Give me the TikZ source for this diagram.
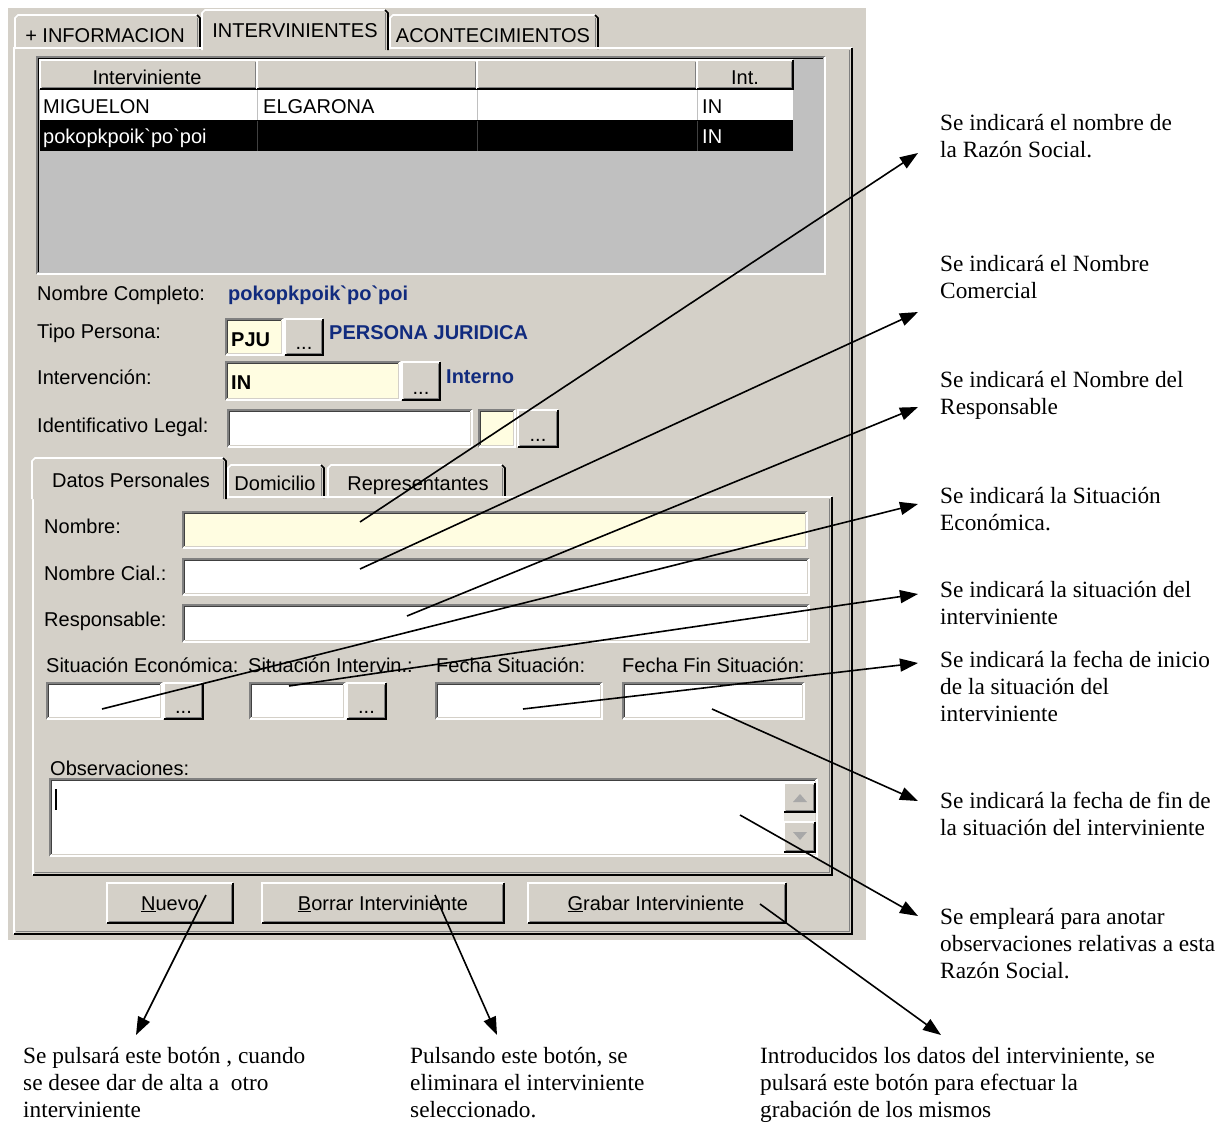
\documentclass[tikz,border=0pt]{standalone}
\usepackage{fontspec}
\setmainfont{Liberation Serif}
\newfontfamily\uifont{Liberation Sans}
\usetikzlibrary{arrows.meta}

\definecolor{winbg}{HTML}{D4D0C8}
\definecolor{listgray}{HTML}{C0C0C0}
\definecolor{edgegray}{HTML}{808080}
\definecolor{darkedge}{HTML}{404040}
\definecolor{fieldyellow}{HTML}{FFFDE1}
\definecolor{labelblue}{HTML}{112B7E}
\definecolor{trackgray}{HTML}{E6E4DE}
\definecolor{arrowgray}{HTML}{A8A8A8}

\tikzset{
  bevelline/.style={line width=1.6pt},
  ui/.style={font=\uifont\fontsize{20}{24}\selectfont, inner sep=0pt, anchor=base west},
  uib/.style={ui, font=\uifont\bfseries\fontsize{20}{24}\selectfont},
  uiblue/.style={uib, text=labelblue},
  uic/.style={ui, anchor=base},
  dots/.style={ui, anchor=base},
  note/.style={font=\fontsize{23.3}{27}\selectfont, align=left, anchor=north west,
    inner sep=0pt, execute at begin node={\rule{0pt}{19pt}}},
  callout/.style={line width=1.6pt, -{Triangle[length=18pt,width=13pt]}},
}

% sunken edit field: x1 y1 x2 y2 fill
\newcommand{\sunkenfield}[5]{%
  \fill[#5] (#1,#2) rectangle (#3,#4);
  \draw[bevelline, edgegray] (#1,#4) -- (#1,#2) -- (#3,#2);
  \draw[bevelline, white] (#1,#4) -- (#3,#4) -- (#3,#2);
  \draw[bevelline, darkedge] ({#1+1.6},{#4-1.6}) -- ({#1+1.6},{#2+1.6}) -- ({#3-1.6},{#2+1.6});
  \draw[bevelline, winbg] ({#1+1.6},{#4-1.6}) -- ({#3-1.6},{#4-1.6}) -- ({#3-1.6},{#2+1.6});
}
% raised button face: x1 y1 x2 y2
\newcommand{\raisedface}[4]{%
  \fill[winbg] (#1,#2) rectangle (#3,#4);
  \draw[bevelline, white] (#1,#4) -- (#1,#2) -- (#3,#2);
  \draw[bevelline, black] (#1,#4) -- (#3,#4) -- (#3,#2);
  \draw[bevelline, edgegray] ({#1+1.6},{#4-1.6}) -- ({#3-1.6},{#4-1.6}) -- ({#3-1.6},{#2+1.6});
}
% browse button with three dots: name x1 y1 x2 y2
\newcommand{\browsebutton}[5]{%
  \raisedface{#2}{#3}{#4}{#5}
  \node[dots] (#1) at ({(#2+#4)/2},{#5-6}) {...};
}
% tab header: x1 y1 x2 y2
\newcommand{\tabface}[4]{%
  \fill[winbg] (#1,#4) -- (#1,{#2+3}) -- ({#1+3},#2) -- ({#3-3},#2) -- (#3,{#2+3}) -- (#3,#4) -- cycle;
  \draw[bevelline, white] (#1,#4) -- (#1,{#2+3}) -- ({#1+3},#2) -- ({#3-3},#2);
  \draw[bevelline, black] ({#3-3},#2) -- (#3,{#2+3}) -- (#3,#4);
  \draw[bevelline, edgegray] ({#3-2.5},{#2+3}) -- ({#3-2.5},#4);
}

\begin{document}
\begin{tikzpicture}[x=1pt, y=-1pt]
\useasboundingbox (0,0) rectangle (1221,1127);
\fill[white] (0,0) rectangle (1221,1127);

% ---------- window ----------
\fill[winbg] (8,8) rectangle (866,940);

% outer tabs
\tabface{15}{15}{200}{49}
\tabface{390}{15}{598}{49}
\draw[bevelline, white] (14,934) -- (14,48) -- (852,48);
\draw[bevelline, black] (852,48) -- (852,934) -- (14,934);
\draw[bevelline, edgegray] (849.5,50) -- (849.5,931.5) -- (16,931.5);
\tabface{202}{10}{388}{50}
\node[uic] (tabInfo) at (105,42) {+ INFORMACION};
\node[uic] (tabInterv) at (295,37) {INTERVINIENTES};
\node[uic] (tabAcont) at (493,42) {ACONTECIMIENTOS};

% ---------- list of participants ----------
\fill[listgray] (37,57) rectangle (825,274);
\draw[bevelline, edgegray] (37,274) -- (37,57) -- (825,57);
\draw[bevelline, white] (37,274) -- (825,274) -- (825,57);
\draw[bevelline, black] (38.6,272.4) -- (38.6,58.6) -- (823.4,58.6);
\raisedface{40}{60}{257}{89}
\raisedface{257}{60}{477}{89}
\raisedface{477}{60}{697}{89}
\raisedface{697}{60}{793}{89}
\fill[white] (40,90) rectangle (793,120);
\fill[black] (40,120) rectangle (793,151);
\foreach \cx in {257,477,697} {
  \draw[line width=1pt, listgray] (\cx,90) -- (\cx,120);
  \draw[line width=1pt, darkedge] (\cx,121) -- (\cx,151);
}
\node[uic] (hdInterv) at (147,84) {Interviniente};
\node[uic] (hdInt) at (745,84) {Int.};
\node[ui] (r1c1) at (43,113) {MIGUELON};
\node[ui] (r1c2) at (263,113) {ELGARONA};
\node[ui] (r1c4) at (702,113) {IN};
\node[ui, text=white] (r2c1) at (43,143) {pokopkpoik\textasciigrave po\textasciigrave poi};
\node[ui, text=white] (r2c4) at (702,143) {IN};

% ---------- header fields ----------
\node[ui] (lblCompleto) at (37,300) {Nombre Completo:};
\node[uiblue] (valCompleto) at (228,300) {pokopkpoik\textasciigrave po\textasciigrave poi};

\node[ui] (lblTipo) at (37,338) {Tipo Persona:};
\sunkenfield{226}{319}{283}{355}{fieldyellow}
\node[uib] (valPJU) at (231,346) {PJU};
\browsebutton{btnTipo}{285}{319}{323}{355}
\node[uiblue] (valPersona) at (329,339) {PERSONA JURIDICA};

\node[ui] (lblInterv) at (37,384) {Intervención:};
\sunkenfield{226}{362}{400}{400}{fieldyellow}
\node[uib] (valIN) at (231,389) {IN};
\browsebutton{btnInterv}{402}{362}{440}{400}
\node[uiblue] (valInterno) at (446,383) {Interno};

\node[ui] (lblIdent) at (37,432) {Identificativo Legal:};
\sunkenfield{228}{410}{472}{447}{white}
\sunkenfield{479}{410}{515}{447}{fieldyellow}
\browsebutton{btnIdent}{518}{410}{558}{447}

% ---------- inner tabs ----------
\tabface{228}{465}{324}{498}
\tabface{328}{465}{505}{498}
\draw[bevelline, white] (33,875) -- (33,497) -- (832,497);
\draw[bevelline, black] (832,497) -- (832,875) -- (33,875);
\draw[bevelline, edgegray] (829.5,499) -- (829.5,872.5) -- (35,872.5);
\tabface{32}{458}{226}{499}
\node[uic] (tabDatos) at (131,487) {Datos Personales};
\node[uic] (tabDomicilio) at (275,490) {Domicilio};
\node[uic] (tabRepres) at (418,490) {Representantes};

% ---------- personal data ----------
\node[ui] (lblNombre) at (44,533) {Nombre:};
\sunkenfield{183}{512}{807}{548}{fieldyellow}
\node[ui] (lblCial) at (44,580) {Nombre Cial.:};
\sunkenfield{183}{559}{809}{595}{white}
\node[ui] (lblResp) at (44,626) {Responsable:};
\sunkenfield{183}{605}{809}{642}{white}

\node[ui] (lblSitEco) at (46,672) {Situación Económica:};
\node[ui] (lblSitInt) at (248,672) {Situación Intervin.:};
\node[ui] (lblFecha) at (436,672) {Fecha Situación:};
\node[ui] (lblFechaFin) at (622,672) {Fecha Fin Situación:};
\sunkenfield{47}{683}{162}{719}{white}
\browsebutton{btnSitEco}{164}{683}{203}{719}
\sunkenfield{250}{683}{345}{719}{white}
\browsebutton{btnSitInt}{347}{683}{386}{719}
\sunkenfield{436}{683}{602}{719}{white}
\sunkenfield{623}{683}{804}{719}{white}

\node[ui] (lblObs) at (50,775) {Observaciones:};
\sunkenfield{50}{779}{817}{856}{white}
\draw[line width=1.2pt] (56,789) -- (56,810);
% scroll bar
\fill[trackgray] (784,812) rectangle (815,822);
\raisedface{784}{783}{815}{812}
\raisedface{784}{822}{815}{852}
\fill[arrowgray] (793,802) -- (807,802) -- (800,794) -- cycle;
\fill[arrowgray] (793,832) -- (807,832) -- (800,840) -- cycle;

% ---------- command buttons ----------
\raisedface{107}{883}{233}{923}
\raisedface{262}{883}{504}{923}
\raisedface{528}{883}{786}{923}
\node[uic] (btnNuevo) at (170,910) {\underline{N}uevo};
\node[uic] (btnBorrar) at (383,910) {\underline{B}orrar Interviniente};
\node[uic] (btnGrabar) at (656,910) {\underline{G}rabar Interviniente};

% ---------- captions ----------
\node[note] (nRazon) at (940,114) {Se indicará el nombre de\\la Razón Social.};
\node[note] (nComercial) at (940,255) {Se indicará el Nombre\\Comercial};
\node[note] (nResp) at (940,371) {Se indicará el Nombre del\\Responsable};
\node[note] (nSitEco) at (940,487) {Se indicará la Situación\\Económica.};
\node[note] (nSitInt) at (940,581) {Se indicará la situación del\\interviniente};
\node[note] (nFecha) at (940,651) {Se indicará la fecha de inicio\\de la situación del\\interviniente};
\node[note] (nFechaFin) at (940,792) {Se indicará la fecha de fin de\\la situación del interviniente};
\node[note] (nObs) at (940,908) {Se empleará para anotar\\observaciones relativas a esta\\Razón Social.};
\node[note] (nNuevo) at (23,1047) {Se pulsará este botón , cuando\\se desee dar de alta a~ otro\\interviniente};
\node[note] (nBorrar) at (410,1047) {Pulsando este botón, se\\eliminara el interviniente\\seleccionado.};
\node[note] (nGrabar) at (760,1047) {Introducidos los datos del interviniente, se\\pulsará este botón para efectuar la\\grabación de los mismos};

% ---------- callout arrows ----------
\coordinate (sNombre) at (360,522);
\coordinate (sCial) at (360,569);
\coordinate (sResp) at (407,616);
\coordinate (sSitEco) at (102,709);
\coordinate (sSitInt) at (289,686);
\coordinate (sFecha) at (523,709);
\coordinate (sFechaFin) at (712,709);
\coordinate (sObs) at (740,815);
\coordinate (sNuevo) at (206,895);
\coordinate (sBorrar) at (435,895);
\coordinate (sGrabar) at (760,904);

\coordinate (tRazon) at (918,153);
\coordinate (tComercial) at (918,312);
\coordinate (tResp) at (918,407);
\coordinate (tSitEco) at (918,504);
\coordinate (tSitInt) at (918,594);
\coordinate (tFecha) at (918,663);
\coordinate (tFechaFin) at (918,801);
\coordinate (tObs) at (918,916);
\coordinate (tNuevo) at (136,1035);
\coordinate (tBorrar) at (497,1035);
\coordinate (tGrabar) at (941,1035);

\draw[callout] (sNombre) -- (tRazon);
\draw[callout] (sCial) -- (tComercial);
\draw[callout] (sResp) -- (tResp);
\draw[callout] (sSitEco) -- (tSitEco);
\draw[callout] (sSitInt) -- (tSitInt);
\draw[callout] (sFecha) -- (tFecha);
\draw[callout] (sFechaFin) -- (tFechaFin);
\draw[callout] (sObs) -- (tObs);
\draw[callout] (sNuevo) -- (tNuevo);
\draw[callout] (sBorrar) -- (tBorrar);
\draw[callout] (sGrabar) -- (tGrabar);
\end{tikzpicture}
\end{document}
